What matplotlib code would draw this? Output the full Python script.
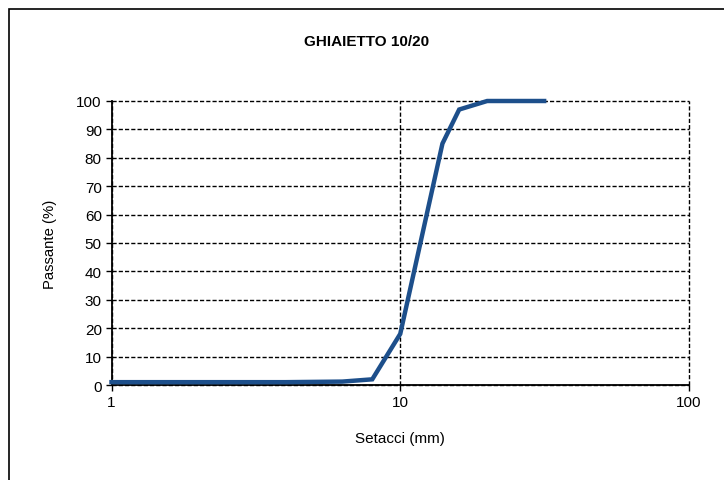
import matplotlib
matplotlib.use("Agg")
import matplotlib.pyplot as plt
from matplotlib.patches import Rectangle

# Data
sieve_mm = [1, 2, 4, 6.3, 8, 10, 14, 16, 20, 31.5]
passing_pct = [1, 1, 1, 1.2, 2, 18, 85, 97, 100, 100]
y_ticks = list(range(0, 101, 10))
x_ticks = [1, 10, 100]
x_tick_labels = ["1", "10", "100"]

plt.rcParams['font.family'] = ['Liberation Sans', 'DejaVu Sans']

fig = plt.figure(figsize=(7.24, 4.81), dpi=100)
fig.patch.set_facecolor('white')

# outer frame
fig.patches.append(Rectangle((8.5/724, -0.1), 1.2, 1 - 10/481 + 0.1,
                             transform=fig.transFigure, fill=False,
                             edgecolor='black', linewidth=1.2))

ax = fig.add_axes([111.5/724, 1 - 386/481, (689 - 111.5)/724, (386 - 102)/481])
ax.plot(sieve_mm, passing_pct, color='#1d4f8b', linewidth=3.2, solid_joinstyle='miter', clip_on=False, zorder=3)
ax.set_xscale('log')
ax.set_xlim(1, 100)
ax.set_ylim(0, 100)
ax.set_xticks(x_ticks)
ax.set_xticklabels(x_tick_labels)
ax.minorticks_off()
ax.set_yticks(y_ticks)

ax.grid(True, which='major', color='black', linestyle=(0, (3, 1.5)), linewidth=1.0)
for gl in ax.get_xgridlines() + ax.get_ygridlines():
    gl.set_clip_on(False)
ax.set_axisbelow(True)
for s in ['top', 'right']:
    ax.spines[s].set_visible(False)
for s in ['left', 'bottom']:
    ax.spines[s].set_linewidth(1.3)
ax.tick_params(axis='both', direction='out', length=4, width=1, labelsize=11, pad=3, colors='black')

ax.set_xlabel('Setacci (mm)', fontsize=11, labelpad=16)
ax.set_ylabel('Passante (%)', fontsize=10.7, labelpad=14)
fig.text(367/724, 1 - 42/481, 'GHIAIETTO 10/20', ha='center', va='center', fontsize=11, fontweight='bold')

fig.savefig('out.png', dpi=100, facecolor='white')
